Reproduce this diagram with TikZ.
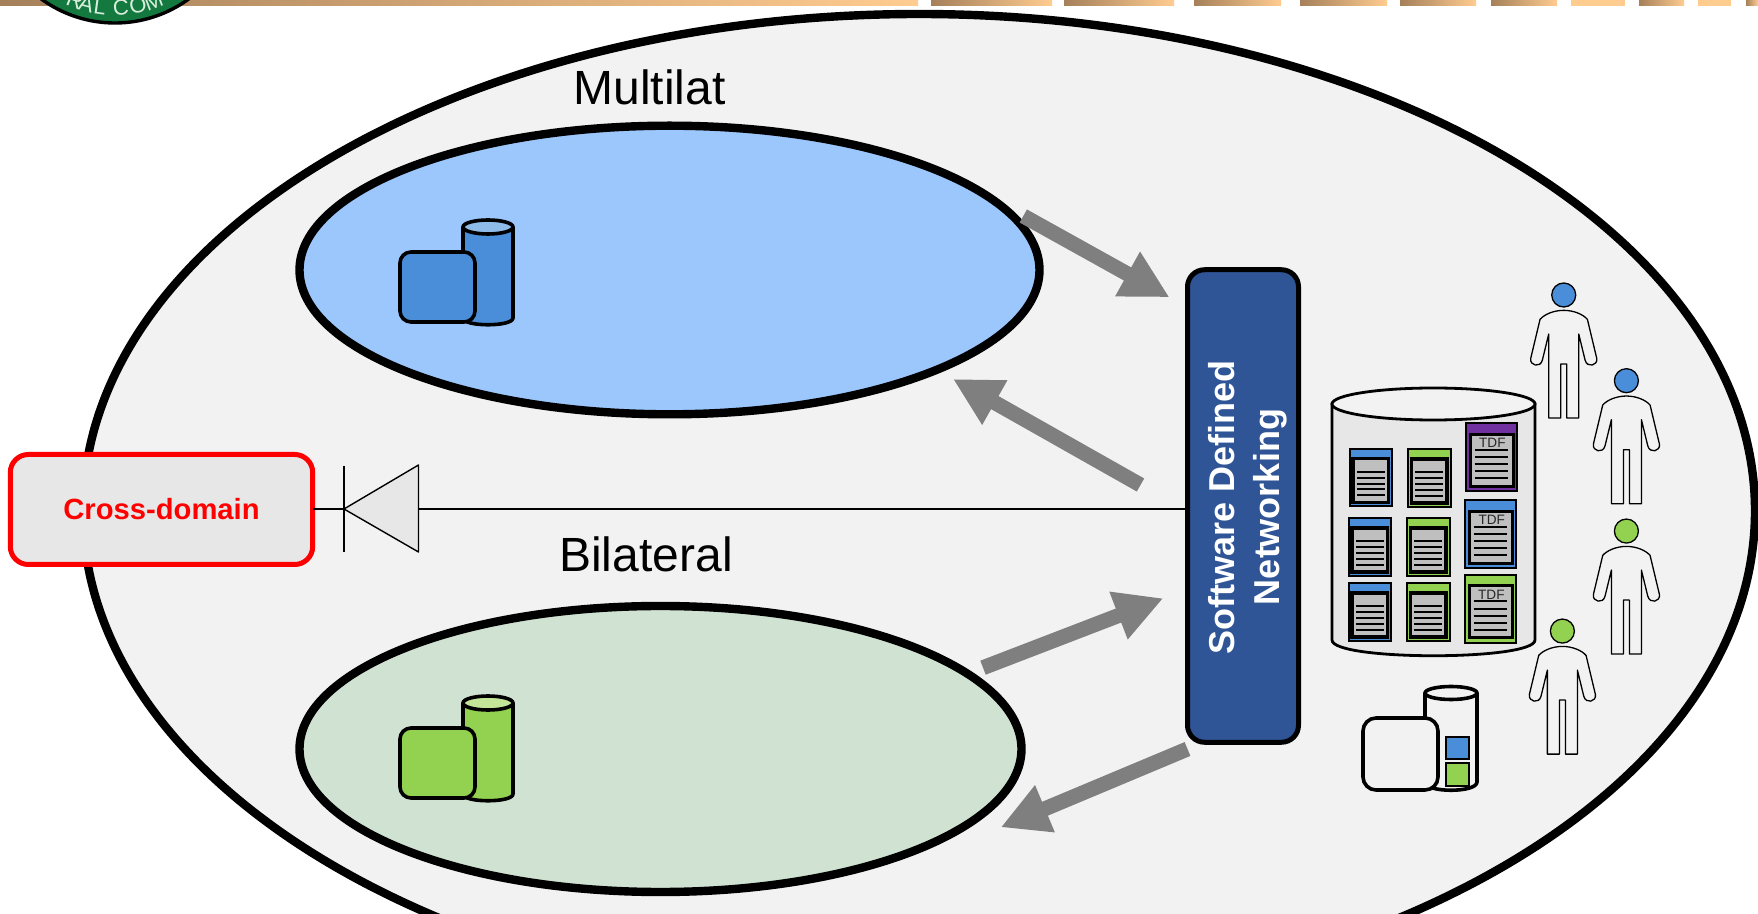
\documentclass[tikz,border=0pt]{standalone}
\usepackage{fontspec}
\setmainfont{Liberation Sans}
\usetikzlibrary{arrows.meta,shapes.geometric,calc}
\definecolor{bgel}{HTML}{F2F2F2}
\definecolor{mblue}{HTML}{9BC7FD}
\definecolor{bgreen}{HTML}{D0E3D2}
\definecolor{iblue}{HTML}{4A8ED9}
\definecolor{iblue2}{HTML}{8FBBE8}
\definecolor{igreen}{HTML}{92D250}
\definecolor{igreen2}{HTML}{C3E597}
\definecolor{ipurple}{HTML}{7030A0}
\definecolor{sdnblue}{HTML}{2F5597}
\definecolor{arrowgray}{HTML}{7F7F7F}
\definecolor{boxgray}{HTML}{E7E7E7}
\definecolor{docgray}{HTML}{BFBFBF}
\definecolor{barlo}{HTML}{A5805A}
\definecolor{barhi}{HTML}{FFCC90}
\definecolor{logogreen}{HTML}{14793F}
\definecolor{logotext}{HTML}{D8EEDC}
\tikzset{
  zone/.style={ellipse,draw=black,line width=4.2pt,inner sep=0pt,outer sep=0pt},
  bigarrow/.style={draw=arrowgray,line width=7.5pt,-{Triangle[length=24pt,width=23.8pt,fill=arrowgray]}},
  bardeco/.style={left color=barlo,right color=barhi,draw=none},
  flatbar/.style={fill=barhi,draw=none},
  title/.style={font=\fontsize{24}{28}\selectfont,inner sep=0pt},
  thinline/.style={line width=0.7pt,draw=black},
  personline/.style={line width=0.65pt,draw=black,line join=round},
  iconline/.style={line width=1.8pt,draw=black,line join=round},
}
% documents: coordinates given in units of 1/3 px
\newcommand{\docsmall}[3]{%
  \begin{scope}[shift={(#1,#2)}]
    \fill[#3,draw=black,line width=1pt] (3,3) rectangle (131,175);
    \fill[docgray,draw=black,line width=1.6pt] (13,32) rectangle (120,164);
    \foreach \yy in {71,89,107,124,142}{\draw[black,line width=1pt] (25,\yy) -- (109,\yy);}
  \end{scope}}
\newcommand{\doctdf}[4]{%
  \begin{scope}[shift={(#1,#2)}]
    \fill[#3,draw=black,line width=1pt] (3,3) rectangle (157,#4);
    \fill[docgray,draw=black,line width=1.5pt] (16,36) rectangle (146,192);
    \node[inner sep=0pt,font=\fontsize{6.8}{8}\selectfont,text=black!85] (tdf#1) at (83,63) {TDF};
    \foreach \yy in {83,105,127,147,169}{\draw[black,line width=1pt] (30,\yy) -- (130,\yy);}
  \end{scope}}
\newcommand{\person}[3]{%
  \begin{scope}[shift={(#1,#2)}]
    \draw[personline] (0,46) .. controls (30,46) and (58,58) .. (71,73)
      -- (99,190) .. controls (103,212) and (70,220) .. (64,195) -- (45,117)
      -- (45,369) -- (9,369) -- (9,207) -- (-9,207) -- (-9,369) -- (-45,369) -- (-45,117)
      -- (-64,195) .. controls (-70,220) and (-103,212) .. (-99,190) -- (-71,73)
      .. controls (-58,58) and (-30,46) .. (0,46) -- cycle;
    \fill[#3,draw=black,line width=0.65pt] (0,0) circle [radius=36];
  \end{scope}}
\newcommand{\dbicon}[3]{%
  \begin{scope}[shift={(0,#1)}]
    \path[fill=#2,draw=black,iconline] (463,227) -- (463,318) .. controls (463,327) and (513,327) .. (513,318) -- (513,227) -- cycle;
    \path[fill=#3,draw=black,iconline] (488,227) ellipse [x radius=25,y radius=7];
    \path[fill=#2,draw=black,iconline,rounded corners=5.5pt] (400,252) rectangle (475,322);
  \end{scope}}
\begin{document}
\begin{tikzpicture}[x=0.5pt,y=-0.5pt]
\path[use as bounding box,fill=white] (0,0) rectangle (1758,914);
\clip (0,0) rectangle (1758,914);
% top band
\path[bardeco] (0,0) rectangle (918,6);
\path[bardeco] (931,0) rectangle (1052,6);
\path[bardeco] (1064,0) rectangle (1174,6);
\path[bardeco] (1194,0) rectangle (1281,6);
\path[bardeco] (1300,0) rectangle (1387,6);
\path[bardeco] (1400,0) rectangle (1476,6);
\path[bardeco] (1491,0) rectangle (1557,6);
\path[flatbar] (1571,0) rectangle (1625,6);
\path[bardeco] (1639,0) rectangle (1684,6);
\path[flatbar] (1698,0) rectangle (1731,6);
\path[bardeco] (1746,0) rectangle (1758,6);
% logo
\path[fill=logogreen,draw=black,line width=1.7pt] (115,-102) circle [radius=125];
\foreach \ch/\ang in {R/-21.3,A/-15,L/-7.8,C/3.1,O/12,M/20.5}{
  \node[inner sep=0pt,text=logotext,font=\fontsize{11}{12}\selectfont,rotate=\ang] (logo\ch) at ({115+110*sin(\ang)},{-102+110*cos(\ang)}) {\ch};
}
% zones
\node[zone,fill=bgel,minimum width=836pt,minimum height=497pt] (outer) at (919,511) {};
\node[zone,fill=mblue,minimum width=370pt,minimum height=144.3pt] (multilat) at (669.5,270) {};
\node[zone,fill=bgreen,minimum width=361pt,minimum height=143pt] (bilateral) at (660.5,749) {};
\node[title] (mlabel) at (649.5,87) {Multilat};
\node[title] (blabel) at (646,554) {Bilateral};
% SDN
\node[draw=black,line width=2.5pt,fill=sdnblue,rounded corners=8.5pt,minimum width=55.5pt,minimum height=236.25pt,inner sep=0pt,outer sep=0pt] (sdn) at (1243,506) {};
\node[rotate=90,text=white,align=center,font=\bfseries\fontsize{18}{22.4}\selectfont,inner sep=0pt] (sdntext) at (1248,507) {Software Defined\\Networking};
% cross domain
\node[draw=red,line width=2.5pt,fill=boxgray,rounded corners=9pt,minimum width=151.2pt,minimum height=55pt,inner sep=0pt,outer sep=0pt,text=red,font=\bfseries\fontsize{14.6}{17}\selectfont] (cross) at (161.5,509.5) {Cross-domain};
\coordinate (diodeK) at (344,509);
\coordinate (diodeA) at (418.5,509);
\draw[thinline] (cross.east |- diodeK) -- (diodeK);
\draw[thinline] (diodeA) -- (sdn.west |- diodeA);
\draw[thinline] (344,466) -- (344,552);
\draw[thinline,fill=boxgray,line join=round] (diodeK) -- (418.5,465) -- (418.5,552) -- cycle;
% arrows
\coordinate (a1s) at (1023.3,216); \coordinate (a1e) at (1169.5,297.3);
\coordinate (a2s) at (1140.5,485); \coordinate (a2e) at (953,379);
\coordinate (a3s) at (983,667.7);  \coordinate (a3e) at (1163.3,598.3);
\coordinate (a4s) at (1187.5,749); \coordinate (a4e) at (1000.7,827.3);
\draw[bigarrow] (a1s) -- (a1e);
\draw[bigarrow] (a2s) -- (a2e);
\draw[bigarrow] (a3s) -- (a3e);
\draw[bigarrow] (a4s) -- (a4e);
% left icons
\dbicon{0}{iblue}{iblue2}
\dbicon{476}{igreen}{igreen2}
% big cylinder
\path[fill=boxgray,draw=black,line width=1.4pt] (1332,404) -- (1332,640) .. controls (1332,661) and (1535,661) .. (1535,640) -- (1535,404) -- cycle;
\path[fill=bgel,draw=black,line width=1.4pt] (1433.5,404) ellipse [x radius=101.5,y radius=16];
% documents
\begin{scope}[shift={(1300,250)},x=0.1667pt,y=-0.1667pt]
  \docsmall{146}{594}{iblue}
  \docsmall{321}{595}{igreen}
  \docsmall{143}{802}{iblue}
  \docsmall{318}{802}{igreen}
  \docsmall{143}{997}{iblue}
  \docsmall{318}{997}{igreen}
  \doctdf{494}{516}{ipurple}{208}
  \doctdf{492}{747}{iblue}{208}
  \doctdf{491}{971}{igreen}{209}
  \person{791}{135}{iblue}
  \person{979}{392}{iblue}
  \person{979}{843}{igreen}
  \person{787}{1143}{igreen}
\end{scope}
% lower right icon
\path[fill=bgel,draw=black,iconline] (1425,693) -- (1425,782) .. controls (1425,793) and (1477,793) .. (1477,782) -- (1477,693) -- cycle;
\path[fill=bgel,draw=black,iconline] (1451,693) ellipse [x radius=26,y radius=6.5];
\path[fill=bgel,draw=black,iconline,rounded corners=6.5pt] (1363,718) rectangle (1438,790);
\path[fill=iblue,draw=black,line width=1.2pt] (1446,737) rectangle (1469,759);
\path[fill=igreen,draw=black,line width=1.2pt] (1446,763) rectangle (1469,786);
\end{tikzpicture}
\end{document}
